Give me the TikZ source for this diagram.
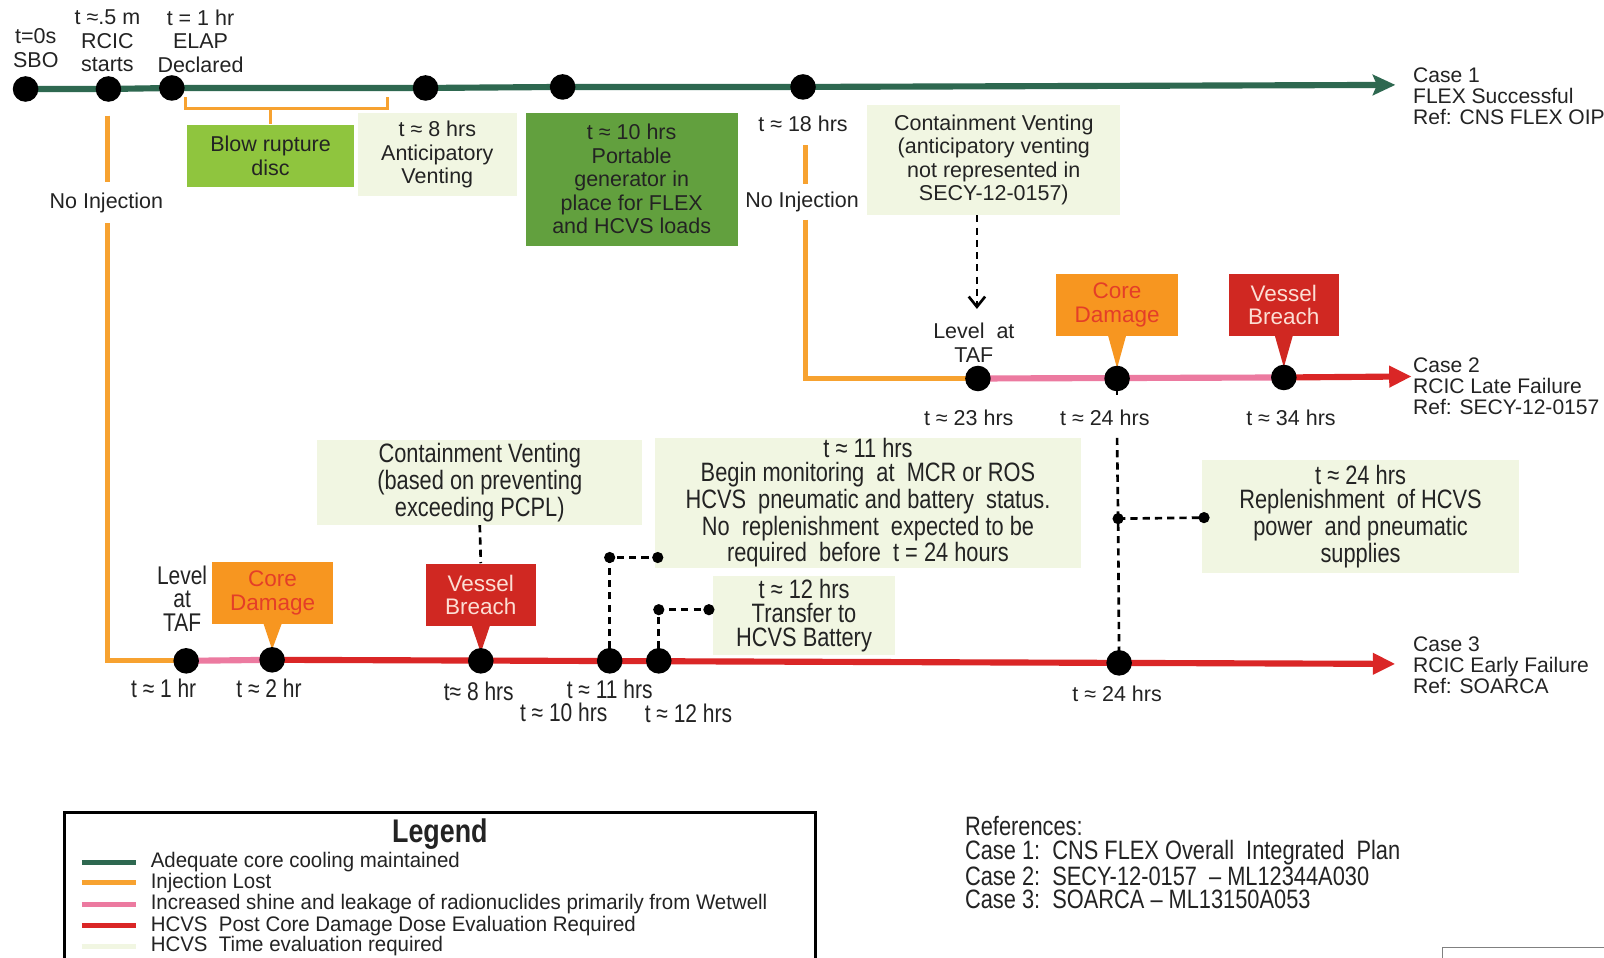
\documentclass[tikz,border=0pt]{standalone}
\usepackage{fontspec}
\setmainfont{Liberation Sans}
\newfontfamily\nar[FakeStretch=0.82]{Liberation Sans}
\newfontfamily\narl[FakeStretch=0.97]{Liberation Sans}
\usetikzlibrary{arrows.meta,calc}
\definecolor{cgreen}{RGB}{46,104,80}
\definecolor{corange}{RGB}{247,162,48}
\definecolor{cpink}{RGB}{236,122,160}
\definecolor{cred}{RGB}{218,38,38}
\definecolor{cpale}{RGB}{241,246,226}
\definecolor{cblow}{RGB}{143,197,62}
\definecolor{cgen}{RGB}{98,160,62}
\definecolor{cdbox}{RGB}{247,150,32}
\definecolor{cdtext}{RGB}{228,62,40}
\definecolor{vbbox}{RGB}{208,40,34}
\definecolor{vbtext}{RGB}{252,222,212}
\definecolor{ink}{RGB}{35,35,35}
\begin{document}
\begin{tikzpicture}[x=0.5pt,y=-0.5pt,
  every node/.style={text=ink, inner sep=0pt, align=center, font=\fontsize{10.5}{11.5}\selectfont},
  rg/.style={font=\fontsize{10.5}{11.5}\selectfont},
  nr/.style={font=\nar\fontsize{13}{11.75}\selectfont},
  nrs/.style={font=\nar\fontsize{12.5}{11.5}\selectfont},
  caselbl/.style={font=\fontsize{10.3}{10.25}\selectfont, align=left, anchor=west},
  palebox/.style={fill=cpale},
  dotn/.style={circle, fill=black, minimum size=12.5pt, inner sep=0pt},
  sdot/.style={circle, fill=black, minimum size=5.5pt, inner sep=0pt},
  mainln/.style={line width=3pt},
  injln/.style={corange, line width=2.5pt},
  dashln/.style={black, line width=1.3pt, dash pattern=on 3.5pt off 2.5pt},
  calltxt/.style={font=\fontsize{11}{11.5}\selectfont},
  lgtxt/.style={font=\narl\fontsize{10.3}{10}\selectfont, anchor=west},
  lgln/.style={line width=2.5pt}
]
\clip (0,0) rectangle (1568,936);
\fill[white] (0,0) rectangle (1568,936);

% ---------- boxes ----------
\node[fill=cblow, minimum width=81.5pt, minimum height=30.5pt] (blow) at (264.5,152.5) {Blow rupture\\disc};
\node[palebox, minimum width=77.5pt, minimum height=41pt] (antic) at (427.5,151) {t ≈ 8 hrs\\Anticipatory\\Venting};
\node[fill=cgen, minimum width=103.5pt, minimum height=65pt] (gen) at (617.5,175) {t ≈ 10 hrs\\Portable\\generator in\\place for FLEX\\and HCVS loads};
\node[palebox, minimum width=123.5pt, minimum height=53.5pt] (cvtop) at (971.5,156.5) {Containment Venting\\(anticipatory venting\\not represented in\\SECY-12-0157)};
\node[palebox, nr, minimum width=159pt, minimum height=41.5pt] (cv3) at (469,471.5) {Containment Venting\\(based on preventing\\exceeding PCPL)};
\node[palebox, nr, minimum width=208.5pt, minimum height=63.5pt] (t11) at (848.5,491.5) {t ≈ 11 hrs\\Begin monitoring\ \ at\ \ MCR or ROS\\HCVS\ \ pneumatic and battery\ \ status.\\No\ \ replenishment\ \ expected to be\\required\ \ before\ \ t = 24 hours};
\node[palebox, nr, minimum width=89pt, minimum height=38.5pt] (t12) at (786,601.5) {t ≈ 12 hrs\\Transfer to\\HCVS Battery};
\node[palebox, nr, minimum width=155pt, minimum height=55pt] (repl) at (1330,505) {t ≈ 24 hrs\\Replenishment\ \ of HCVS\\power\ \ and pneumatic\\supplies};

\node[fill=cdbox, text=cdtext, calltxt, minimum width=60pt, minimum height=30pt] (cd2) at (1092,298) {Core\\Damage};
\node[fill=vbbox, text=vbtext, calltxt, minimum width=54pt, minimum height=30pt] (vb2) at (1255,298) {Vessel\\Breach};
\node[fill=cdbox, text=cdtext, calltxt, minimum width=59.5pt, minimum height=30.5pt] (cd3) at (266.5,579.5) {Core\\Damage};
\node[fill=vbbox, text=vbtext, calltxt, minimum width=54pt, minimum height=30.5pt] (vb3) at (470,581.5) {Vessel\\Breach};

% ---------- coordinates ----------
\coordinate (p1a) at (25,87);  \coordinate (p1b) at (106,87); \coordinate (p1c) at (168,86);
\coordinate (p1d) at (416,86); \coordinate (p1e) at (550,85); \coordinate (p1f) at (785,85);
\coordinate (e1) at (1364,83);
\coordinate (o2a) at (787,142); \coordinate (o2b) at (787,180); \coordinate (o2c) at (787,215);
\coordinate (corner2) at (787,370);
\coordinate (p2a) at (956,370); \coordinate (p2b) at (1092,370); \coordinate (p2c) at (1255,369);
\coordinate (e2) at (1380,368);
\coordinate (o3a) at (105,113); \coordinate (o3b) at (105,178); \coordinate (o3c) at (105,218);
\coordinate (corner3) at (105,646);
\coordinate (p3a) at (182,646); \coordinate (p3b) at (266,645); \coordinate (p3c) at (470,646);
\coordinate (p3d) at (596,646); \coordinate (p3e) at (644,646); \coordinate (p3f) at (1094,648);
\coordinate (e3) at (1364,649);
\coordinate (q1) at (596,545); \coordinate (q1r) at (643,545);
\coordinate (q2) at (644,596); \coordinate (q2r) at (693,596);
\coordinate (q3) at (1093,507); \coordinate (q3r) at (1177,506);
\coordinate (stubA) at (1092,386); \coordinate (stubB) at (1092,428);
\coordinate (atip) at (955,302);
\coordinate (brkL) at (181,95); \coordinate (brkR) at (379,95); \coordinate (brkM) at (264.5,106);

% ---------- bracket ----------
\draw[corange, line width=1.5pt] (brkL) -- (brkL |- brkM) -- (brkR |- brkM) -- (brkR);
\draw[corange, line width=1.5pt] (brkM) -- (blow.north);

% ---------- timelines ----------
\draw[mainln, cgreen, -{Stealth[length=11pt,width=10pt,inset=2pt]}] (p1a) -- (p1b) -- (p1c) -- (p1d) -- (p1e) -- (p1f) -- (e1);

\draw[injln] (o2a) -- (o2b);
\draw[injln, line join=miter] (o2c) -- (corner2) -- (p2a);
\draw[mainln, cpink] (p2a) -- (p2c);
\draw[mainln, cred, -{Triangle[length=11pt,width=10pt]}] (p2c) -- (e2);

\draw[injln] (o3a) -- (o3b);
\draw[injln, line join=miter] (o3c) -- (corner3) -- (p3a);
\draw[mainln, cpink] (p3a) -- (p3b);
\draw[mainln, cred, -{Triangle[length=11pt,width=10pt]}] (p3b) -- (e3);

% ---------- dashed connectors ----------
\draw[dashln, -{Straight Barb[length=5pt,width=8pt]}] (cvtop.south -| atip) -- (atip);
\draw[dashln] (cv3.south) -- (vb3.north);
\draw[dashln] (p3d) -- (q1) -- (q1r);
\draw[dashln] (p3e) -- (q2) -- (q2r);
\draw[dashln] (p2b) -- (stubA);
\draw[dashln] (stubB) -- (q3) -- (p3f);
\draw[dashln] (q3) -- (q3r);

% ---------- callout pointers ----------
\fill[cdbox] ($(cd2.south)+(-9,-1)$) -- ($(cd2.south)+(9,-1)$) -- ($(p2b)+(0,-10)$) -- cycle;
\fill[vbbox] ($(vb2.south)+(-9,-1)$) -- ($(vb2.south)+(9,-1)$) -- ($(p2c)+(0,-10)$) -- cycle;
\fill[cdbox] ($(cd3.south)+(-9,-1)$) -- ($(cd3.south)+(9,-1)$) -- ($(p3b)+(0,-10)$) -- cycle;
\fill[vbbox] ($(vb3.south)+(-9,-1)$) -- ($(vb3.south)+(9,-1)$) -- ($(p3c)+(0,-8)$) -- cycle;

% ---------- dots ----------
\foreach \p in {p1a,p1b,p1c,p1d,p1e,p1f,p2a,p2b,p2c,p3a,p3b,p3c,p3d,p3e,p3f}
  \node[dotn] (d\p) at (\p) {};
\foreach \p in {q1,q1r,q2,q2r,q3,q3r}
  \node[sdot] (d\p) at (\p) {};

% ---------- labels ----------
\node (sbo) at (35,47) {t=0s\\SBO};
\node (rcic) at (105,40) {t ≈.5 m\\RCIC\\starts};
\node (elap) at (196,40) {t = 1 hr\\ELAP\\Declared};
\node (ni3) at (104,198) {No Injection};
\node (t18) at (785,121) {t ≈ 18 hrs};
\node (ni2) at (784,197) {No Injection};

\node (taf2) at (952,335) {Level\ \ at\\TAF};
\node (l23) at (947,408) {t ≈ 23 hrs};
\node (l24) at (1080,408) {t ≈ 24 hrs};
\node (l34) at (1262,408) {t ≈ 34 hrs};

\node[nrs] (taf3) at (178,585) {Level\\at\\TAF};
\node[nrs] (l1h) at (160,673) {t ≈ 1 hr};
\node[nrs] (l2h) at (263,673) {t ≈ 2 hr};
\node[nrs] (l8h) at (468,676) {t≈ 8 hrs};
\node[nrs] (l11h) at (596,674) {t ≈ 11 hrs};
\node[nrs] (l10h) at (551,696) {t ≈ 10 hrs};
\node[nrs] (l12h) at (673,697) {t ≈ 12 hrs};
\node (l24b) at (1092,678) {t ≈ 24 hrs};

\node[caselbl] (case1) at (1381,94) {Case 1\\FLEX Successful\\Ref: CNS FLEX OIP};
\node[caselbl] (case2) at (1381,378) {Case 2\\RCIC Late Failure\\Ref: SECY-12-0157};
\node[caselbl] (case3) at (1381,650) {Case 3\\RCIC Early Failure\\Ref: SOARCA};

% ---------- legend ----------
\draw[line width=1.3pt] (63,950) -- (63,794) -- (797,794) -- (797,950);
\node[font=\nar\bfseries\fontsize{16}{16}\selectfont] (lgt) at (430,815) {Legend};
\node[lgtxt] (lg1) at (147,843) {Adequate core cooling maintained};
\node[lgtxt] (lg2) at (147,863) {Injection Lost};
\node[lgtxt] (lg3) at (147,884) {Increased shine and leakage of radionuclides primarily from Wetwell};
\node[lgtxt] (lg4) at (147,905) {HCVS\ \ Post Core Damage Dose Evaluation Required};
\node[lgtxt] (lg5) at (147,925) {HCVS\ \ Time evaluation required};
\draw[lgln, cgreen] ($(lg1.west)+(-67,0)$) -- ++(53,0);
\draw[lgln, corange] ($(lg2.west)+(-67,0)$) -- ++(53,0);
\draw[lgln, cpink] ($(lg3.west)+(-67,0)$) -- ++(53,0);
\draw[lgln, cred] ($(lg4.west)+(-67,0)$) -- ++(53,0);
\draw[lgln, cpale] ($(lg5.west)+(-67,0)$) -- ++(53,0);

% ---------- references ----------
\node[font=\nar\fontsize{13}{11.5}\selectfont, align=left, anchor=west] (refs) at (943,843.5)
  {References:\\Case 1:\ \ CNS FLEX Overall\ \ Integrated\ \ Plan\\Case 2:\ \ SECY-12-0157\ \ – ML12344A030\\Case 3:\ \ SOARCA – ML13150A053};

\draw[gray, line width=0.6pt] (1410,960) -- (1410,926) -- (1580,926);
\end{tikzpicture}
\end{document}
